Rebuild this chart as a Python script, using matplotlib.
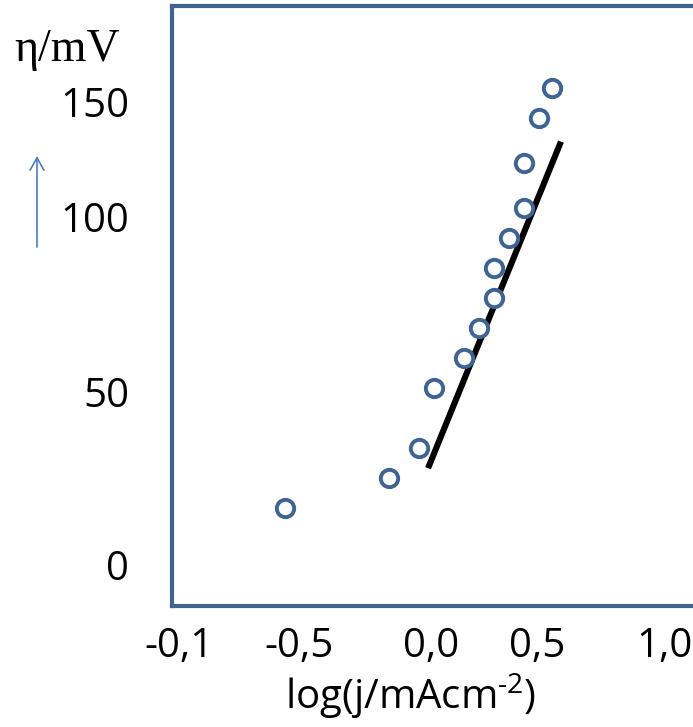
import numpy as np
import matplotlib.pyplot as plt

plt.rcParams["mathtext.fontset"] = "custom"
plt.rcParams["mathtext.rm"] = "Open Sans"

# measured points: log(j / mA cm^-2) vs overpotential (mV)
log_j = [-0.689, -0.198, -0.057, 0.014, 0.156, 0.226, 0.297, 0.297, 0.368, 0.439, 0.439, 0.509, 0.571]
eta = [16.5, 25.1, 33.8, 51.2, 59.8, 68.5, 77.2, 85.8, 94.5, 103.2, 116.2, 129.2, 137.9]

# fitted Tafel line (end points)
fit_x = [-0.014, 0.613]
fit_y = [28.0, 122.3]

# tick labels as printed on the chart
xtick_labels = ["-0,1", "-0,5", "0,0", "0,5", "1,0"]
ytick_labels = ["0", "50", "100", "150"]

frame_col = "#41648F"
dot_col = "#3E6494"

fig = plt.figure(figsize=(6.93, 7.27), dpi=100)
W, H = 693, 727
ax = fig.add_axes([172 / W, (H - 606) / H, (710 - 172) / W, (606 - 5.5) / H])

ax.plot(log_j, eta, "o", ms=12.5, mfc="white", mec=dot_col, mew=2.8, zorder=3)
ax.plot(fit_x, fit_y, color="black", lw=4.4, solid_capstyle="butt", zorder=2)

ax.set_xlim(-1.222, 1.316)
ax.set_ylim(-11.8, 161.6)

# the labels sit where the original slide put them
ax.set_xticks([-1.19, -0.623, 0.0, 0.5, 1.10], xtick_labels)
ax.set_yticks([0, 50, 100.6, 133.8], ytick_labels)
ax.tick_params(length=0, labelsize=29)
ax.tick_params(axis="x", pad=15)
ax.tick_params(axis="y", pad=31)
for lab in ax.get_xticklabels() + ax.get_yticklabels():
    lab.set_family("Open Sans")

for sp in ax.spines.values():
    sp.set_color(frame_col)
    sp.set_linewidth(3.0)

ax.set_xlabel(r"log(j/mAcm$^{\text{-}2}$)", fontsize=29, family="Open Sans", labelpad=4)
ax.xaxis.set_label_coords((411 - 172) / (710 - 172), -0.108)

fig.text(67 / W, 1 - 50 / H, "η/mV", fontsize=33, family="Liberation Serif",
         ha="center", va="center")
ax.annotate("", xy=(37 / W, 1 - 156 / H), xytext=(37 / W, 1 - 247 / H),
            xycoords="figure fraction", textcoords="figure fraction",
            arrowprops=dict(arrowstyle="->,head_length=0.9,head_width=0.5",
                            color="#4A7EBB", lw=1.2, shrinkA=0, shrinkB=0))

fig.savefig("out.png", dpi=100)
